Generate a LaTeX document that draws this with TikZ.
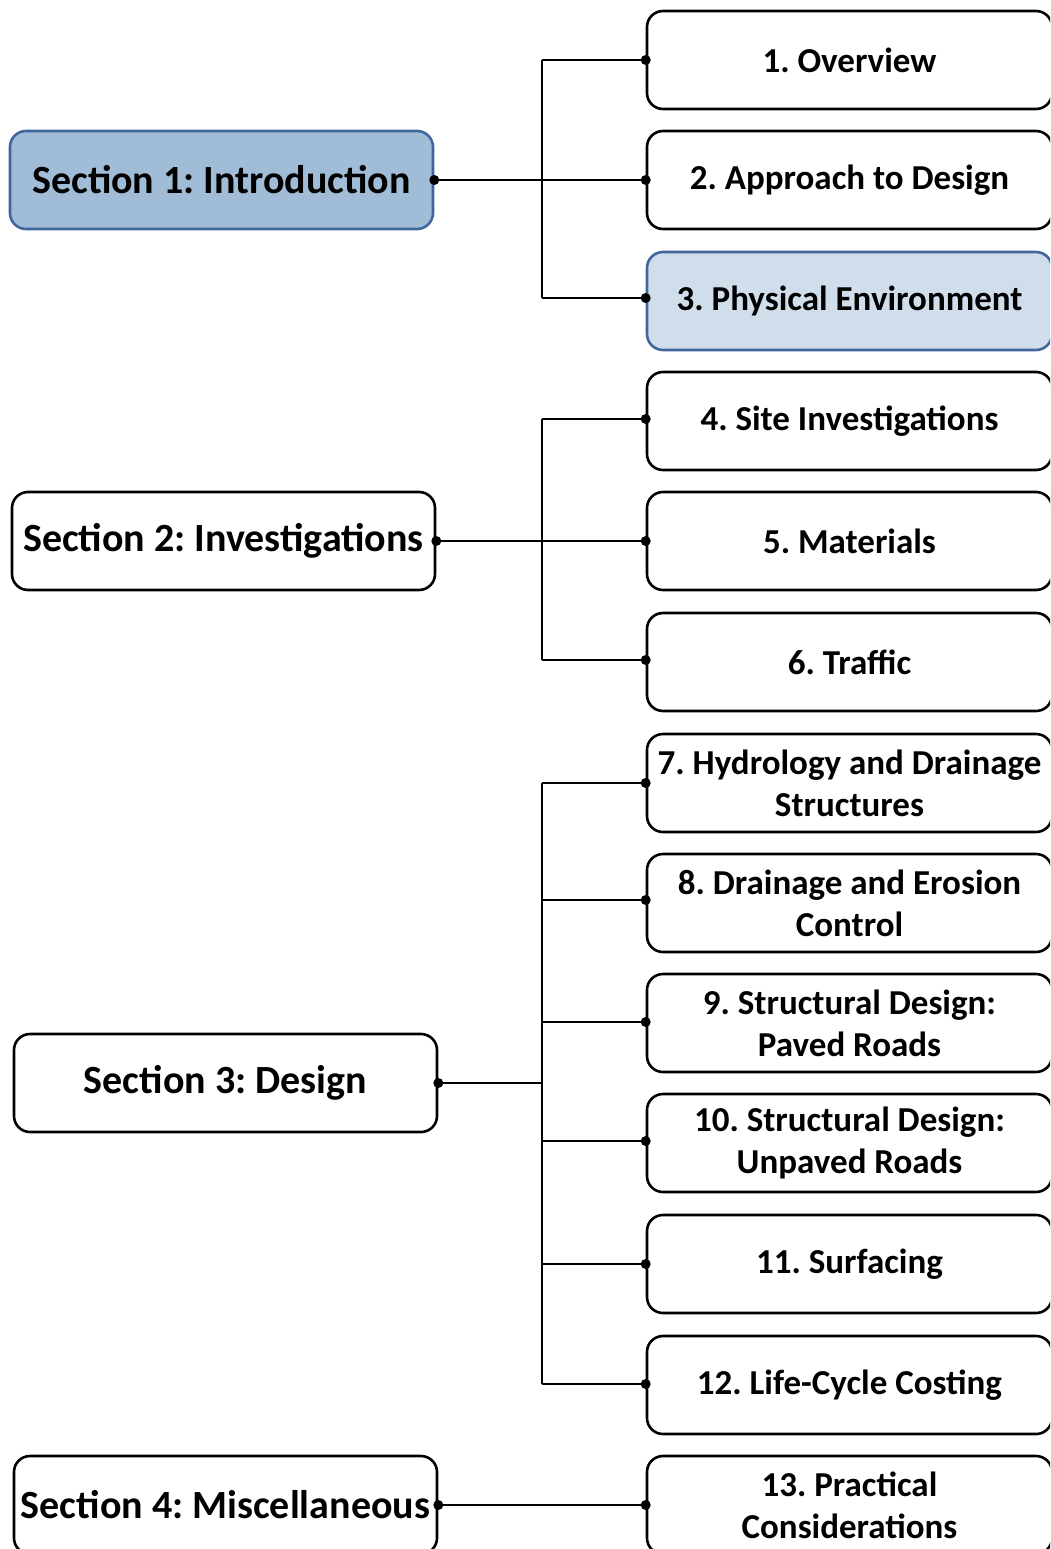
\documentclass[tikz,border=0pt]{standalone}
\usepackage{fontspec}
\setmainfont{Carlito}
\frenchspacing
\definecolor{secfill}{HTML}{A0BCD6}
\definecolor{itemfill}{HTML}{D0DEEC}
\definecolor{blueborder}{HTML}{41669E}
\begin{document}
\begin{tikzpicture}[x=1pt,y=-1pt,
  secbox/.style={draw=black, line width=2.6pt, rounded corners=16pt, fill=white,
    minimum width=423pt, minimum height=98pt, inner sep=0pt, align=center,
    font=\fontsize{40}{48}\selectfont\bfseries},
  itembox/.style={draw=black, line width=2.6pt, rounded corners=16pt, fill=white,
    minimum width=405pt, minimum height=98pt, inner sep=0pt, align=center,
    font=\fontsize{35}{42}\selectfont\bfseries},
  hl/.style={draw=blueborder, fill=itemfill},
  hlsec/.style={draw=blueborder, fill=secfill},
  conn/.style={line width=2.6pt},
  dot/.style={circle, fill=black, inner sep=0pt, minimum size=10pt}
]
\useasboundingbox (0,0) rectangle (1050,1549);
\clip (0,0) rectangle (1050,1549);
% left section boxes
\node[secbox, hlsec] (s1) at (221.5,180) {Section 1: Introduction};
\node[secbox] (s2) at (223.5,541) {Section 2: Investigations};
\node[secbox] (s3) at (225.5,1083) {Section 3: Design};
\node[secbox] (s4) at (225.5,1505) {Section 4: Miscellaneous};
% right item boxes
\node[itembox] (i1) at (849.5,60) {1. Overview};
\node[itembox] (i2) at (849.5,180) {2. Approach to Design};
\node[itembox, hl] (i3) at (849.5,301) {3. Physical Environment};
\node[itembox] (i4) at (849.5,421) {4. Site Investigations};
\node[itembox] (i5) at (849.5,541) {5. Materials};
\node[itembox] (i6) at (849.5,662) {6. Traffic};
\node[itembox] (i7) at (849.5,783) {7. Hydrology and Drainage\\Structures};
\node[itembox] (i8) at (849.5,903) {8. Drainage and Erosion\\Control};
\node[itembox] (i9) at (849.5,1023) {9. Structural Design:\\Paved Roads};
\node[itembox] (i10) at (849.5,1143) {10. Structural Design:\\Unpaved Roads};
\node[itembox] (i11) at (849.5,1264) {11. Surfacing};
\node[itembox] (i12) at (849.5,1385) {12. Life-Cycle Costing};
\node[itembox] (i13) at (849.5,1505) {13. Practical\\Considerations};
% bus coordinates
\coordinate (b1t) at (542,60);
\coordinate (b1b) at (542,298);
\coordinate (b2t) at (542,419);
\coordinate (b2b) at (542,660);
\coordinate (b3t) at (542,783);
\coordinate (b3b) at (542,1384);
% group 1
\draw[conn] (b1t) -- (b1b);
\draw[conn] (s1.east) -- (i2.west);
\draw[conn] (b1t) -- (i1.west);
\draw[conn] (b1b) -- (i3.west |- b1b);
% group 2
\draw[conn] (b2t) -- (b2b);
\draw[conn] (s2.east) -- (i5.west);
\draw[conn] (b2t) -- (i4.west |- b2t);
\draw[conn] (b2b) -- (i6.west |- b2b);
% group 3
\draw[conn] (b3t) -- (b3b);
\draw[conn] (s3.east) -- (s3.east -| b3t);
\foreach \i/\y in {7/783,8/900,9/1022,10/1141,11/1264,12/1384}{
  \draw[conn] (542,\y) -- (i\i.west |- {(0,\y)});
  \node[dot] (d\i) at (i\i.west |- {(0,\y)}) {};
}
% group 4
\draw[conn] (s4.east) -- (i13.west);
% dots
\node[dot] (ds1) at (s1.east) {};
\node[dot] (ds2) at (s2.east) {};
\node[dot] (ds3) at (s3.east) {};
\node[dot] (ds4) at (s4.east) {};
\node[dot] (d1) at (i1.west) {};
\node[dot] (d2) at (i2.west) {};
\node[dot] (d3) at (i3.west |- b1b) {};
\node[dot] (d4) at (i4.west |- b2t) {};
\node[dot] (d5) at (i5.west) {};
\node[dot] (d6) at (i6.west |- b2b) {};
\node[dot] (d13) at (i13.west) {};
\end{tikzpicture}
\end{document}
